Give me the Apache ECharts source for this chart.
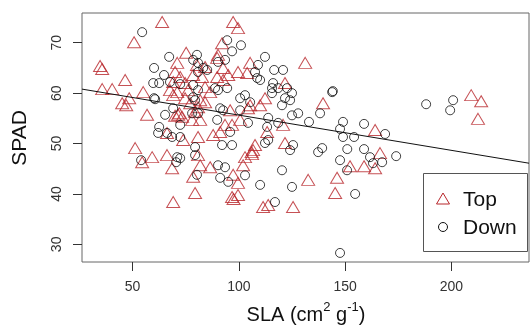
<!DOCTYPE html>
<html>
<head>
<meta charset="utf-8">
<script src="https://cdn.jsdelivr.net/npm/echarts@6/dist/echarts.min.js"></script>
<style>
html,body{margin:0;padding:0;background:#fff;}
#c{width:530px;height:328px;}
</style>
</head>
<body>
<div id="c"></div>
<script>
// ---- data ----
var topSLA  = [34.7,35.7,35.7,40.4,50.7,63.9,46.5,48.4,45.1,47.0,55.0,56.8,51.2,54.5,59.2,66.2,68.6,69.1,75.2,71.0,70.0,72.4,69.1,74.7,76.1,71.0,78.5,80.3,97.3,99.6,92.1,90.2,105.3,103.9,99.6,92.6,95.0,84.1,82.7,89.8,92.6,86.5,84.1,67.6,69.1,74.7,77.1,80.8,71.4,73.3,70.0,78.0,66.2,73.8,80.8,78.5,79.4,81.8,84.1,95.9,104.3,110.0,112.3,81.8,87.9,93.5,96.8,100.6,113.3,120.8,80.8,107.6,106.7,106.2,121.7,86.5,81.8,102.0,97.3,99.6,99.6,96.8,111.4,113.8,125.5,132.6,146.2,145.3,131.2,139.6,164.1,166.4,152.3,158.9,164.1,209.3,214.0,212.5,105.3,121.7,102.9,91.2,89.8,79.4,72.0,97.5,106.0];
var topSPAD = [65.4,64.8,60.8,60.8,70.1,74.1,62.6,59.0,58.0,57.6,60.2,55.7,49.1,46.3,47.3,47.7,45.1,38.4,68.0,66.0,64.2,63.2,62.2,62.0,60.6,60.2,63.6,65.6,74.1,72.9,69.9,67.6,66.0,64.0,64.2,65.0,63.6,65.2,63.2,63.2,62.6,60.2,61.2,60.6,59.6,59.0,58.0,57.2,55.7,55.3,55.5,54.7,52.1,50.7,51.3,43.4,40.2,58.6,58.2,56.6,57.0,57.6,59.0,54.7,51.7,53.7,53.7,54.7,52.3,53.7,47.7,49.7,48.7,47.9,50.1,45.3,45.7,45.7,43.8,42.2,39.8,39.4,37.4,37.8,37.4,42.8,43.2,40.2,66.0,58.0,52.7,48.1,45.5,45.5,45.1,59.6,58.4,54.9,57.6,62.0,47.3,52.3,67.0,56.3,56.0,39.0,48.3];

var downSLA  = [54.5,60.1,59.7,62.5,60.1,54.0,62.5,62.0,67.2,70.5,64.8,67.6,72.4,78.5,80.8,94.5,101.0,96.8,80.3,112.3,116.6,120.8,107.6,108.6,93.5,90.2,80.8,83.2,85.1,88.8,90.2,94.5,116.1,115.6,122.7,115.6,102.9,100.6,60.6,69.1,65.3,66.2,68.6,72.4,72.4,71.0,72.4,79.4,79.4,80.3,91.2,92.6,100.6,105.3,121.7,120.3,80.8,89.8,104.3,113.8,113.3,113.8,112.3,118.5,125.0,127.9,92.1,96.8,125.5,124.1,90.2,93.5,102.9,95.0,91.2,110.0,120.3,125.0,117.0,137.3,139.2,147.6,150.9,147.6,143.9,144.2,138.2,125.0,124.1,133.0,149.0,147.6,149.0,154.2,158.9,168.8,151.0,158.9,161.7,163.1,167.4,174.0,154.7,188.1,200.8,199.4,95.9,109.0,110.0,118.5,78.5,80.8,78.5,79.4,78.0];
var downSPAD = [72.1,65.0,62.0,62.0,59.0,46.7,53.3,52.1,67.2,46.3,63.6,62.2,61.8,66.6,66.0,70.5,69.5,68.3,67.6,67.2,64.6,64.6,64.2,63.0,66.6,66.2,64.2,65.0,64.6,61.0,60.6,61.0,62.0,61.0,61.0,60.0,59.6,59.0,58.8,57.0,55.7,52.1,51.3,51.3,53.7,47.3,47.1,47.7,49.3,43.8,57.0,56.6,56.6,58.2,59.0,57.6,56.0,54.7,54.1,55.1,53.3,50.7,50.1,54.1,55.6,56.0,49.7,49.7,49.7,48.7,45.7,45.3,43.7,42.4,43.2,41.8,44.7,41.4,38.4,48.3,49.1,46.7,44.7,28.3,60.2,60.4,56.0,60.0,58.6,54.3,54.3,52.9,51.3,51.3,53.9,51.9,48.9,48.9,47.3,46.1,46.3,47.5,40.0,57.8,58.6,56.6,52.3,65.6,62.6,61.0,61.6,60.6,59.2,58.6,56.0];

// fitted line (end points)
var fitSLA  = [26.2, 236.5];
var fitSPAD = [60.8, 46.1];

var xTicks = [50, 100, 150, 200];
var yTicks = [30, 40, 50, 60, 70];
var legendNames = ['Top', 'Down'];

function pairs(a, b){ var r=[]; for (var i=0;i<a.length;i++) r.push([a[i], b[i]]); return r; }

var RED = '#B8262B';
var FONT = '"Liberation Sans", Arial, sans-serif';

var chart = echarts.init(document.getElementById('c'), null, {renderer:'canvas'});
chart.setOption({
  animation: false,
  backgroundColor: '#fff',
  grid: { left: 82, top: 13, right: 1, bottom: 66, show: true, borderColor: '#666', borderWidth: 1, backgroundColor: 'transparent' },
  xAxis: {
    type: 'value', min: 26.2, max: 236.5,
    axisLine: { show: false },
    splitLine: { show: false },
    axisTick: { show: true, customValues: xTicks, length: 9, lineStyle: { color: '#333', width: 1 } },
    axisLabel: { customValues: xTicks, fontSize: 14, color: '#333', margin: 18, fontFamily: FONT }
  },
  yAxis: {
    type: 'value', min: 26.5, max: 75.9,
    axisLine: { show: false },
    splitLine: { show: false },
    axisTick: { show: true, customValues: yTicks, length: 9, lineStyle: { color: '#333', width: 1 } },
    axisLabel: { customValues: yTicks, fontSize: 14, color: '#333', margin: 18, rotate: 90, fontFamily: FONT }
  },
  series: [
    { name: legendNames[0], type: 'scatter', data: pairs(topSLA, topSPAD), symbol: 'triangle', symbolSize: [13, 11],
      itemStyle: { color: 'rgba(0,0,0,0)', borderColor: RED, borderWidth: 1 }, z: 3 },
    { name: legendNames[1], type: 'scatter', data: pairs(downSLA, downSPAD), symbol: 'circle', symbolSize: 9,
      itemStyle: { color: 'rgba(0,0,0,0)', borderColor: '#111', borderWidth: 1 }, z: 3 },
    { type: 'line', data: pairs(fitSLA, fitSPAD), symbol: 'none', lineStyle: { color: '#111', width: 1 }, z: 4, silent: true }
  ],
  graphic: [
    { type: 'text', x: 20, y: 138, rotation: Math.PI/2,
      style: { text: 'SPAD', fontSize: 21, fontFamily: FONT, fill: '#111', align: 'center', verticalAlign: 'middle' } },
    { type: 'text', x: 306, y: 313,
      style: { text: '{a|SLA (cm}{s|2}{a| g}{s|-1}{a|)}', align: 'center', verticalAlign: 'middle', fill: '#111',
        rich: { a: { fontSize: 20, fontFamily: FONT, fill: '#111', lineHeight: 24, verticalAlign: 'bottom' },
                s: { fontSize: 13, fontFamily: FONT, fill: '#111', lineHeight: 24, verticalAlign: 'top' } } } },
    { type: 'rect', shape: { x: 423.5, y: 173.5, width: 104, height: 78 }, style: { fill: '#fff', stroke: '#555', lineWidth: 1 }, z: 10 },
    { type: 'polygon', shape: { points: [[443, 193], [449.5, 204], [436.5, 204]] }, style: { fill: 'none', stroke: RED, lineWidth: 1 }, z: 11 },
    { type: 'circle', shape: { cx: 443, cy: 227, r: 4.5 }, style: { fill: 'none', stroke: '#111', lineWidth: 1 }, z: 11 },
    { type: 'text', x: 463, y: 200, style: { text: legendNames[0], fontSize: 21, fontFamily: FONT, fill: '#111', verticalAlign: 'middle' }, z: 11 },
    { type: 'text', x: 463, y: 228, style: { text: legendNames[1], fontSize: 21, fontFamily: FONT, fill: '#111', verticalAlign: 'middle' }, z: 11 }
  ]
});
</script>
</body>
</html>
